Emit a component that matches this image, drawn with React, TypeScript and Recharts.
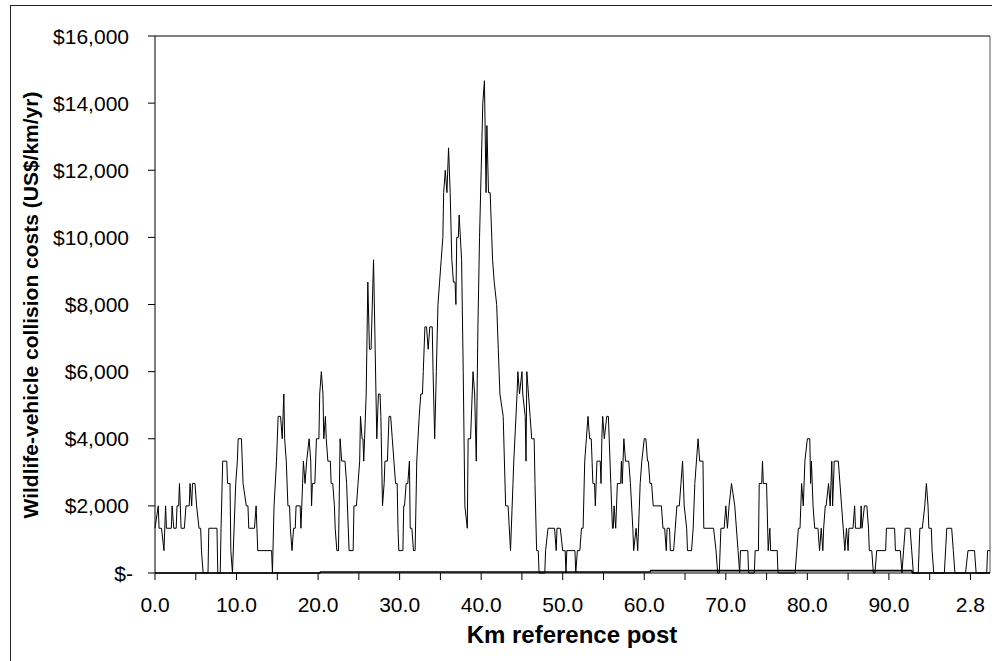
import React from 'react';
import { LineChart, Line, XAxis, YAxis, ReferenceLine, Label } from 'recharts';

const FONT = '"Liberation Sans", Arial, Helvetica, sans-serif';

// [km reference post, cost US$/km/yr]
const collisionCosts: [number, number][] = [
  [0.0, 1333], [0.4, 2000], [0.5, 1333], [0.8, 1333], [1.1, 667], [1.3, 2000], [1.4, 1333], [2.0, 1333],
  [2.1, 2000], [2.3, 1333], [2.6, 1333], [2.7, 2000], [2.9, 2000], [3.0, 2667], [3.2, 1333], [3.6, 1333],
  [3.8, 2000], [4.2, 2000], [4.3, 2667], [4.5, 2000], [4.6, 2667], [4.9, 2667], [5.1, 2000], [5.4, 1333],
  [5.6, 1333], [5.7, 667], [5.9, 0], [6.5, 0], [6.6, 1333], [7.6, 1333], [7.7, 0], [8.0, 0], [8.1, 1333],
  [8.3, 3333], [8.8, 3333], [8.9, 2667], [9.2, 2667], [9.3, 667], [9.5, 0], [9.9, 2667], [10.1, 3333],
  [10.2, 4000], [10.6, 4000], [10.7, 3333], [10.8, 2667], [11.2, 2000], [11.4, 2000], [11.5, 1333],
  [12.2, 1333], [12.4, 2000], [12.5, 1333], [12.6, 667], [14.3, 667], [14.4, 0], [14.6, 2000], [14.9, 3333],
  [15.1, 4667], [15.4, 4667], [15.6, 4000], [15.8, 5333], [15.9, 4000], [16.1, 3333], [16.3, 2000],
  [16.5, 2000], [16.6, 1333], [16.8, 667], [17.0, 1333], [17.2, 1333], [17.3, 2000], [17.8, 2000],
  [17.9, 1333], [18.1, 2667], [18.2, 3333], [18.4, 2667], [18.6, 3333], [18.9, 4000], [19.1, 3333],
  [19.2, 2000], [19.3, 2667], [19.6, 2667], [19.7, 3333], [19.8, 4000], [20.1, 4000], [20.2, 5333],
  [20.4, 6000], [20.6, 5333], [20.7, 4000], [20.9, 4667], [21.0, 4000], [21.2, 3333], [21.5, 3333],
  [21.6, 2667], [21.8, 2667], [22.0, 2000], [22.1, 1333], [22.3, 667], [22.5, 667], [22.7, 4000],
  [22.9, 3333], [23.3, 3333], [23.5, 2667], [23.7, 1333], [23.8, 667], [24.3, 667], [24.4, 2000],
  [24.7, 2000], [24.9, 2667], [25.1, 3333], [25.2, 4667], [25.4, 4000], [25.5, 4000], [25.6, 3333],
  [25.7, 4000], [25.9, 5333], [26.1, 8667], [26.3, 6667], [26.5, 6667], [26.8, 9333], [27.0, 6667],
  [27.1, 5333], [27.2, 4000], [27.4, 5333], [27.6, 5333], [27.7, 4667], [27.8, 3333], [27.9, 2000],
  [28.1, 2667], [28.2, 3333], [28.5, 3333], [28.7, 4667], [28.9, 4667], [29.1, 4000], [29.3, 3333],
  [29.5, 2667], [29.7, 2667], [29.8, 1333], [29.9, 667], [30.4, 667], [30.5, 2000], [30.6, 2000],
  [30.8, 2667], [31.0, 2667], [31.2, 3333], [31.3, 1333], [31.5, 1333], [31.7, 667], [31.9, 667],
  [32.0, 2000], [32.1, 3333], [32.4, 4667], [32.6, 5333], [32.8, 5333], [32.9, 6000], [33.1, 7333],
  [33.3, 7333], [33.5, 6667], [33.7, 7333], [34.0, 7333], [34.1, 6000], [34.3, 4000], [34.5, 6000],
  [34.7, 8000], [34.9, 8667], [35.1, 9333], [35.3, 10000], [35.4, 11333], [35.6, 12000], [35.8, 11333],
  [36.0, 12667], [36.2, 11333], [36.4, 9333], [36.6, 8667], [36.8, 8667], [36.9, 8000], [37.0, 10000],
  [37.2, 10000], [37.3, 10667], [37.6, 9333], [37.8, 6000], [38.0, 2000], [38.3, 1333], [38.4, 4000],
  [38.7, 4000], [39.0, 6000], [39.2, 5333], [39.4, 3333], [39.6, 7333], [39.8, 10000], [40.0, 12000],
  [40.2, 14000], [40.4, 14667], [40.6, 11333], [40.7, 13333], [40.9, 11333], [41.1, 11333], [41.3, 10000],
  [41.4, 9333], [41.6, 8667], [41.9, 8000], [42.0, 7333], [42.1, 6667], [42.3, 5333], [42.7, 4667],
  [43.0, 2000], [43.3, 2000], [43.6, 667], [43.9, 2667], [44.0, 3333], [44.4, 5333], [44.5, 6000],
  [44.7, 5333], [45.0, 6000], [45.1, 5333], [45.4, 4667], [45.5, 3333], [45.6, 6000], [45.8, 5333],
  [46.0, 4667], [46.2, 4000], [46.5, 4000], [46.6, 2667], [46.8, 667], [47.0, 667], [47.1, 0], [47.8, 0],
  [47.9, 667], [48.2, 1333], [49.0, 1333], [49.2, 667], [49.3, 1333], [49.7, 1333], [50.0, 667],
  [50.3, 667], [50.4, 0], [50.5, 667], [51.5, 667], [51.6, 0], [51.8, 667], [52.1, 667], [52.3, 1333],
  [52.5, 1333], [52.7, 3333], [52.9, 4000], [53.1, 4667], [53.3, 4000], [53.5, 4000], [53.7, 2667],
  [53.9, 2667], [54.0, 2000], [54.2, 3333], [54.6, 3333], [54.7, 2667], [54.8, 4000], [54.9, 4667],
  [55.1, 4000], [55.4, 4667], [55.6, 4667], [55.7, 4000], [55.9, 2667], [56.1, 1333], [56.2, 1333],
  [56.3, 2000], [56.5, 1333], [56.7, 2667], [57.1, 2667], [57.2, 3333], [57.3, 2667], [57.5, 4000],
  [57.7, 3333], [58.1, 3333], [58.3, 2667], [58.6, 1333], [58.7, 667], [59.0, 1333], [59.2, 667],
  [59.5, 2667], [59.7, 3333], [60.0, 4000], [60.2, 4000], [60.4, 3333], [60.5, 3333], [60.7, 2667],
  [60.9, 2667], [61.1, 2000], [62.1, 2000], [62.3, 1333], [62.5, 1333], [62.7, 667], [62.8, 1333],
  [63.1, 1333], [63.2, 667], [63.6, 667], [63.8, 1333], [64.0, 2000], [64.3, 2000], [64.5, 2667],
  [64.7, 3333], [64.9, 2000], [65.2, 1333], [65.3, 667], [65.8, 667], [66.0, 1333], [66.2, 2667],
  [66.4, 3333], [66.6, 4000], [66.8, 3333], [67.2, 3333], [67.3, 1333], [68.5, 1333], [68.8, 667],
  [69.0, 0], [69.2, 0], [69.4, 1333], [69.8, 1333], [70.0, 2000], [70.2, 1333], [70.4, 2000], [70.7, 2667],
  [71.1, 2000], [71.5, 667], [71.7, 0], [71.8, 667], [72.7, 667], [72.8, 0], [73.5, 0], [73.6, 667],
  [74.0, 667], [74.1, 2667], [74.4, 2667], [74.5, 3333], [74.6, 2667], [75.0, 2667], [75.2, 667],
  [75.4, 1333], [75.5, 667], [76.3, 667], [76.4, 0], [78.5, 0], [78.7, 667], [78.9, 1333], [79.1, 1333],
  [79.3, 2667], [79.5, 2000], [79.7, 3333], [80.0, 4000], [80.3, 4000], [80.4, 2667], [80.5, 3333],
  [80.7, 2000], [80.9, 1333], [81.3, 1333], [81.5, 667], [81.7, 1333], [81.9, 667], [82.0, 1333],
  [82.2, 2000], [82.3, 2000], [82.6, 2667], [82.8, 2000], [83.0, 3333], [83.1, 2000], [83.3, 3333],
  [83.8, 3333], [84.0, 2667], [84.2, 2000], [84.4, 1333], [84.6, 667], [84.8, 1333], [85.0, 667],
  [85.1, 1333], [85.6, 1333], [85.8, 2000], [85.9, 1333], [86.5, 1333], [86.6, 2000], [86.7, 1333],
  [87.0, 2000], [87.3, 2000], [87.5, 1333], [87.6, 667], [87.9, 667], [88.1, 0], [88.3, 0], [88.5, 667],
  [89.6, 667], [89.7, 1333], [90.7, 1333], [90.8, 667], [91.4, 667], [91.6, 0], [91.8, 667], [92.0, 1333],
  [92.6, 1333], [92.8, 667], [93.0, 0], [93.6, 0], [93.8, 1333], [94.1, 1333], [94.4, 2000], [94.6, 2667],
  [94.8, 2000], [94.9, 1333], [95.2, 1333], [95.3, 667], [95.5, 0], [96.8, 0], [97.1, 1333], [97.7, 1333],
  [97.9, 667], [98.1, 0], [99.4, 0], [99.7, 667], [100.5, 667], [100.7, 0], [102.0, 0], [102.1, 667],
  [102.4, 667],
];

// second, near-zero series running along the axis
const baselineCosts: [number, number][] = [
  [0, 0], [20.2, 0], [20.3, 30], [60.7, 30], [60.8, 70], [92.8, 70], [92.9, 0], [102.4, 0],
];

const yTicks = [0, 2000, 4000, 6000, 8000, 10000, 12000, 14000, 16000];
const xTicks = [0, 5, 10, 15, 20, 25, 30, 35, 40, 45, 50, 55, 60, 65, 70, 75, 80, 85, 90, 95, 100];
const xTickLabels = ['0.0', '10.0', '20.0', '30.0', '40.0', '50.0', '60.0', '70.0', '80.0', '90.0', '2.8'];

const mainData = collisionCosts.map(([km, cost]) => ({ km, cost }));
const baseData = baselineCosts.map(([km, cost]) => ({ km, cost }));

function YTick(props: any) {
  const { y, payload } = props;
  const v = payload.value as number;
  const text = v === 0 ? '$-' : '$' + v.toLocaleString('en-US');
  return (
    <text x={v === 0 ? 133 : 129} y={y} dy="0.36em" textAnchor="end" fontSize={21} fontFamily={FONT} fill="#000">
      {text}
    </text>
  );
}

const fmtX = (v: number) => (v % 10 === 0 ? xTickLabels[v / 10] : '');

export default function App() {
  return (
    <div style={{ position: 'fixed', left: 0, top: 0, width: 992, height: 661, overflow: 'hidden', background: '#fff' }}>
      <div
        style={{
          position: 'absolute', left: 10, top: 5, width: 1000, height: 700,
          border: '1.5px solid #222', boxSizing: 'border-box',
        }}
      />
      <div style={{ position: 'absolute', left: 0, top: 0 }}>
        <LineChart width={992} height={661} margin={{ top: 36, right: 2, bottom: 28, left: 0 }}>
          <XAxis
            type="number"
            dataKey="km"
            domain={[0, 102.4]}
            ticks={xTicks}
            interval={0}
            tickFormatter={fmtX}
            tickSize={7}
            tickMargin={17}
            height={60}
            allowDuplicatedCategory={false}
            axisLine={{ stroke: '#000' }}
            tickLine={{ stroke: '#000' }}
            tick={{ fontSize: 21, fill: '#000', fontFamily: FONT }}
          >
            <Label
              content={() => (
                <text x={572} y={643} textAnchor="middle" fontSize={24} fontWeight="bold" fontFamily={FONT} fill="#000">
                  Km reference post
                </text>
              )}
            />
          </XAxis>
          <YAxis
            type="number"
            domain={[0, 16000]}
            ticks={yTicks}
            interval={0}
            width={155}
            tickSize={7}
            axisLine={{ stroke: '#000' }}
            tickLine={{ stroke: '#000' }}
            tick={<YTick />}
          >
            <Label
              content={() => (
                <text
                  x={30}
                  y={305}
                  transform="rotate(-90, 30, 305)"
                  textAnchor="middle"
                  dominantBaseline="central"
                  fontSize={21}
                  fontWeight="bold"
                  fontFamily={FONT}
                  fill="#000"
                >
                  Wildlife-vehicle collision costs (US$/km/yr)
                </text>
              )}
            />
          </YAxis>
          <ReferenceLine y={16000} stroke="#000" strokeWidth={1} />
          <ReferenceLine x={102.4} stroke="#555" strokeWidth={1} />
          <Line
            data={baseData}
            dataKey="cost"
            type="linear"
            stroke="#000"
            strokeWidth={1.6}
            dot={false}
            isAnimationActive={false}
          />
          <Line
            data={mainData}
            dataKey="cost"
            type="linear"
            stroke="#000"
            strokeWidth={1}
            dot={false}
            isAnimationActive={false}
          />
        </LineChart>
      </div>
    </div>
  );
}
